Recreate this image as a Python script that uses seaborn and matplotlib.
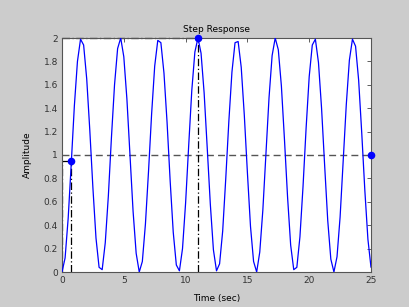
import numpy as np
import pandas as pd
import matplotlib
matplotlib.use("Agg")
import matplotlib.pyplot as plt
import seaborn as sns

# Step response samples (every 0.25 s)
time_step = 0.25
amplitude = [
    0.00, 0.12, 0.46, 0.93, 1.42, 1.80, 1.99, 1.94, 1.65, 1.21, 0.72, 0.29,
    0.04, 0.02, 0.25, 0.65, 1.15, 1.60, 1.91, 2.00, 1.84, 1.48, 1.00, 0.52,
    0.16, 0.00, 0.09, 0.41, 0.86, 1.35, 1.76, 1.98, 1.96, 1.70, 1.28, 0.78,
    0.34, 0.06, 0.01, 0.20, 0.59, 1.08, 1.55, 1.88, 2.00, 1.87, 1.53, 1.06,
    0.58, 0.19, 0.01, 0.07, 0.35, 0.80, 1.29, 1.71, 1.96, 1.97, 1.75, 1.34,
    0.85, 0.39, 0.09, 0.00, 0.17, 0.53, 1.01, 1.49, 1.85, 2.00, 1.90, 1.59,
    1.13, 0.64, 0.23, 0.02, 0.04, 0.30, 0.73, 1.23, 1.67, 1.94, 1.99, 1.79,
    1.40, 0.91, 0.44, 0.11, 0.00, 0.13, 0.47, 0.95, 1.43, 1.81, 1.99, 1.93,
    1.64, 1.19, 0.70, 0.28, 0.04,
]
time = [i * time_step for i in range(len(amplitude))]

# Characteristic points
rise_time, rise_value = 0.76, 0.95
peak_time, peak_value = 11.0, 2.0
settle_time, final_value = 25.0, 1.0

x_ticks = [0, 5, 10, 15, 20, 25]
y_ticks = [0, 0.2, 0.4, 0.6, 0.8, 1, 1.2, 1.4, 1.6, 1.8, 2]
y_tick_labels = ["0", "0.2", "0.4", "0.6", "0.8", "1", "1.2", "1.4", "1.6", "1.8", "2"]

sns.set_theme(style="white")
plt.rcParams["font.family"] = ["DejaVu Sans"]

fig = plt.figure(figsize=(4.09, 3.07), dpi=100, facecolor="#cccccc")
ax = fig.add_axes([62 / 409, 1 - 272 / 307, (371 - 62) / 409, (272 - 38) / 307])
ax.set_facecolor("white")

df = pd.DataFrame({"t": time, "y": amplitude})
sns.lineplot(data=df, x="t", y="y", ax=ax, color="#0000ff", linewidth=0.9,
             estimator=None, sort=False, zorder=3)

# steady-state line
ax.plot([0, 25], [final_value, final_value], linestyle=(0, (5, 3)),
        color="#555555", linewidth=1.0, zorder=2)
# peak response lines
ax.plot([0, peak_time], [peak_value, peak_value], linestyle=(0, (6, 2, 1, 2)),
        color="black", linewidth=0.9, zorder=2, clip_on=False)
ax.plot([peak_time, peak_time], [0, peak_value], linestyle=(0, (6, 2, 1, 2)),
        color="black", linewidth=0.9, zorder=2)
# rise time lines
ax.plot([0, rise_time], [rise_value, rise_value], linestyle=(0, (6, 2, 1, 2)),
        color="black", linewidth=0.9, zorder=2)
ax.plot([rise_time, rise_time], [0, rise_value], linestyle=(0, (6, 2, 1, 2)),
        color="black", linewidth=0.9, zorder=2)
ax.plot([0.03, 0.03], [0, rise_value], linestyle=(0, (6, 2, 1, 2)),
        color="black", linewidth=0.9, zorder=2)

# markers
ax.scatter([rise_time, peak_time, settle_time], [rise_value, peak_value, final_value],
           s=30, color="#0000ff", zorder=5, clip_on=False, linewidths=0)

ax.set_xlim(0, 25)
ax.set_ylim(0, 2)
ax.set_xticks(x_ticks)
ax.set_xticklabels([str(v) for v in x_ticks])
ax.set_yticks(y_ticks)
ax.set_yticklabels(y_tick_labels)
ax.tick_params(direction="in", length=3, width=0.6, labelsize=6.5,
               colors="#444444", top=True, right=True, pad=3)
ax.tick_params(axis="both", labelcolor="#333333")
for s in ax.spines.values():
    s.set_color("#555555")
    s.set_linewidth(0.8)
ax.set_title("Step Response", fontsize=6.5, color="black", pad=4)
ax.set_xlabel("Time (sec)", fontsize=6.5, color="black", labelpad=6)
ax.set_ylabel("Amplitude", fontsize=6.5, color="black", labelpad=8)

fig.savefig("out.png", dpi=100, facecolor=fig.get_facecolor())
